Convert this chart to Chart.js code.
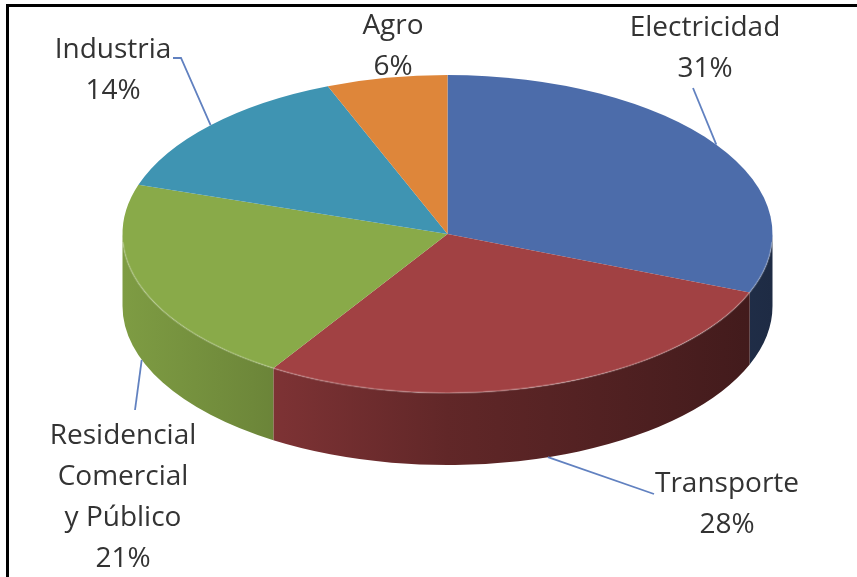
<!DOCTYPE html>
<html>
<head>
<meta charset="utf-8">
<script src="https://cdn.jsdelivr.net/npm/chart.js@4.4.1/dist/chart.umd.min.js"></script>
<style>
  html, body { margin: 0; padding: 0; background: #fff; }
  canvas { display: block; }
</style>
</head>
<body>
<canvas id="chart" width="857" height="577"></canvas>
<script>
// data
var categories = ['Electricidad', 'Transporte', ['Residencial', 'Comercial', 'y Público'], 'Industria', 'Agro'];
var values = [31, 28, 21, 14, 6];
var colors = ['#4C6CAA', '#A14143', '#89AA49', '#3F94B2', '#DE863A'];

// where the labels sit (text centre x, first baseline y, leader end)
var labelLayout = [
  {x: 705, y: 36, lx: 693, ly: 88},
  {x: 727, y: 492, lx: 654, ly: 494},
  {x: 123, y: 444, lx: 135, ly: 410},
  {x: 113, y: 58, lx: 181, ly: 58, hook: 173},
  {x: 393, y: 34}
];

var squash = 159 / 325;
var depth = 72;

function shade(hex, m) {
  var r = parseInt(hex.substr(1, 2), 16), g = parseInt(hex.substr(3, 2), 16), b = parseInt(hex.substr(5, 2), 16);
  return 'rgb(' + Math.round(r * m) + ',' + Math.round(g * m) + ',' + Math.round(b * m) + ')';
}

var pie3d = {
  id: 'pie3d',
  beforeDatasetsDraw: function(chart) {
    var ctx = chart.ctx;
    var arcs = chart.getDatasetMeta(0).data;
    // side walls
    arcs.forEach(function(arc, i) {
      var a1 = Math.max(arc.startAngle, 0), a2 = Math.min(arc.endAngle, Math.PI);
      if (a1 >= a2) return;
      var x = arc.x, y = arc.y, r = arc.outerRadius, ry = r * squash;
      var grad = ctx.createLinearGradient(x - r, 0, x + r, 0);
      grad.addColorStop(0, shade(colors[i], 0.92));
      grad.addColorStop(0.2, shade(colors[i], 0.8));
      grad.addColorStop(0.5, shade(colors[i], 0.6));
      grad.addColorStop(0.85, shade(colors[i], 0.46));
      grad.addColorStop(1, shade(colors[i], 0.4));
      ctx.save();
      ctx.beginPath();
      ctx.ellipse(x, y, r, ry, 0, a1, a2, false);
      ctx.lineTo(x + r * Math.cos(a2), y + ry * Math.sin(a2) + depth);
      ctx.ellipse(x, y + depth, r, ry, 0, a2, a1, true);
      ctx.closePath();
      ctx.fillStyle = grad;
      ctx.fill();
      ctx.restore();
    });
    // squash the top face
    var a0 = arcs[0];
    ctx.save();
    ctx.translate(a0.x, a0.y);
    ctx.scale(1, squash);
    ctx.translate(-a0.x, -a0.y);
  },
  afterDatasetsDraw: function(chart) {
    var ctx = chart.ctx;
    ctx.restore();
    // soft highlight along the front rim of the top face
    var a0 = chart.getDatasetMeta(0).data[0];
    ctx.save();
    ctx.strokeStyle = 'rgba(255,255,255,0.18)';
    ctx.lineWidth = 2;
    ctx.beginPath();
    ctx.ellipse(a0.x, a0.y, a0.outerRadius, a0.outerRadius * squash, 0, 0.05, Math.PI - 0.05, false);
    ctx.stroke();
    ctx.restore();
  },
  afterDraw: function(chart) {
    var ctx = chart.ctx;
    var arcs = chart.getDatasetMeta(0).data;
    ctx.save();
    // leader lines
    ctx.strokeStyle = '#6181C0';
    ctx.lineWidth = 1.8;
    arcs.forEach(function(arc, i) {
      var L = labelLayout[i];
      if (L.lx === undefined) return;
      var mid = (arc.startAngle + arc.endAngle) / 2;
      var px = arc.x + arc.outerRadius * Math.cos(mid);
      var py = arc.y + arc.outerRadius * squash * Math.sin(mid);
      if (Math.sin(mid) > 0) py += depth;
      ctx.beginPath();
      if (L.hook !== undefined) {
        ctx.moveTo(L.hook, L.ly);
        ctx.lineTo(L.lx, L.ly);
      } else {
        ctx.moveTo(L.lx, L.ly);
      }
      ctx.lineTo(px, py);
      ctx.stroke();
    });
    // label text
    ctx.fillStyle = '#333333';
    ctx.font = '28px "Open Sans"';
    ctx.textAlign = 'center';
    ctx.textBaseline = 'alphabetic';
    chart.data.labels.forEach(function(lab, i) {
      var L = labelLayout[i];
      var lines = [].concat(lab);
      lines.push(values[i] + '%');
      lines.forEach(function(t, j) {
        ctx.fillText(t, L.x, L.y + j * 41);
      });
    });
    // frame
    ctx.fillStyle = '#000';
    ctx.fillRect(6, 4, 851, 3);
    ctx.fillRect(6, 4, 3, 573);
    ctx.restore();
  }
};

var chart = new Chart(document.getElementById('chart').getContext('2d'), {
  type: 'pie',
  data: {
    labels: categories,
    datasets: [{
      data: values,
      backgroundColor: colors,
      borderWidth: 0,
      radius: 325,
      clip: false
    }]
  },
  options: {
    responsive: false,
    animation: false,
    layout: {padding: {left: 38, right: 0, top: 0, bottom: 109}},
    plugins: {
      legend: {display: false},
      tooltip: {enabled: false}
    }
  },
  plugins: [pie3d]
});
</script>
</body>
</html>
